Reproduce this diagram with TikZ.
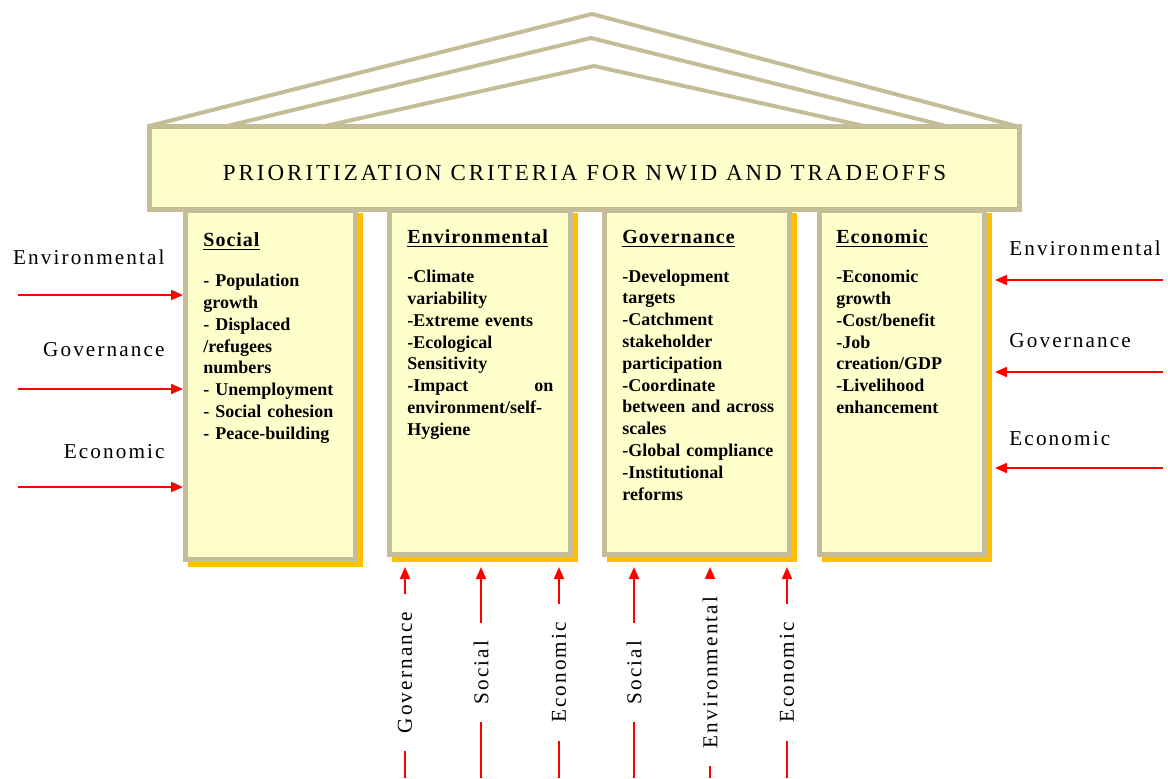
\documentclass[tikz,border=0pt]{standalone}
\usepackage{fontspec}
\setmainfont{Liberation Serif}
\newfontfamily\titlefont[LetterSpace=13]{Liberation Serif}
\newfontfamily\sidefont[LetterSpace=10]{Liberation Serif}
\newfontfamily\headfont[LetterSpace=5]{Liberation Serif}
\usepackage{tikz}
\usetikzlibrary{arrows.meta,shadows}
\definecolor{paper}{RGB}{255,255,204}
\definecolor{frame}{RGB}{196,189,151}
\definecolor{shade}{RGB}{255,192,0}
\definecolor{arrowred}{RGB}{255,0,0}
\newcommand{\colhead}[1]{{\fontsize{10}{10.9}\headfont\bfseries\underline{#1}}}

\begin{document}
\begin{tikzpicture}[
  x=0.5pt, y=-0.5pt,
  roof/.style={draw=frame, line width=2pt},
  pillar/.style={draw=frame, fill=paper, line width=2.5pt, anchor=north west, inner sep=0pt,
    general shadow={draw=shade, fill=shade, line width=2.5pt, shadow xshift=2.5pt, shadow yshift=-2.5pt}},
  pillartext/.style={anchor=north west, inner sep=0pt, align=left,
    font=\fontsize{9}{10.9}\selectfont\bfseries},
  flow/.style={draw=arrowred, line width=1pt, -{Triangle[length=6pt,width=5pt]}},
  sidelab/.style={font=\fontsize{10.6}{12}\sidefont, inner sep=0pt},
  vlab/.style={sidelab, fill=white, rotate=90, inner xsep=9pt, inner ysep=1pt}
]
\useasboundingbox (0,0) rectangle (1168,778);

% roof
\draw[roof] (149,126) -- (592,14) -- (1016,126);
\draw[roof] (227,126) -- (591,38) -- (946,126);
\draw[roof] (325,126) -- (594,66) -- (864,126);

% pillars
\node[pillar, minimum width=85pt, minimum height=174.5pt] (soc) at (183,208) {};
\node[pillar, minimum width=90.5pt, minimum height=172pt] (env) at (387,208) {};
\node[pillar, minimum width=92.5pt, minimum height=172pt] (gov) at (602,208) {};
\node[pillar, minimum width=82.5pt, minimum height=172pt] (eco) at (817,208) {};

\node[draw=frame, fill=paper, line width=2.5pt, minimum width=435pt, minimum height=41.5pt,
  text height=12.5pt, text depth=0pt, font=\fontsize{11.5}{13}\titlefont] (title) at (584.5,168)
  {PRIORITIZATION CRITERIA FOR NWID AND TRADEOFFS};

\node[pillartext, text width=80pt] (soctxt) at (203,232.4) {\colhead{Social}\\[9.1pt]
  - Population\\ growth\\ - Displaced\\ /refugees\\ numbers\\ - Unemployment\\
  - Social cohesion\\ - Peace-building};
\node[pillartext, text width=73pt] (envtxt) at (407,229.4) {\colhead{Environmental}\\[8.6pt]
  -Climate\\ variability\\ -Extreme events\\ -Ecological\\ Sensitivity\\
  -Impact\hfill on\\ environment/self-\\ Hygiene};
\node[pillartext, text width=78pt] (govtxt) at (622,229.4) {\colhead{Governance}\\[8.6pt]
  -Development\\ targets\\ -Catchment\\ stakeholder\\ participation\\ -Coordinate\\
  between and across\\ scales\\ -Global compliance\\ -Institutional\\ reforms};
\node[pillartext, text width=75pt] (ecotxt) at (836,229.4) {\colhead{Economic}\\[8.6pt]
  -Economic\\ growth\\ -Cost/benefit\\ -Job\\ creation/GDP\\ -Livelihood\\ enhancement};

% inputs from the sides
\foreach \y/\lab/\ly [count=\i] in {295/Environmental/264, 389/Governance/356, 487/Economic/458} {
  \coordinate (l\i) at (18,\y);
  \node[sidelab, anchor=base east] (ll\i) at (165,\ly) {\lab};
  \draw[flow] (l\i) -- (l\i -| soc.west);
}
\foreach \y/\lab/\ly [count=\i] in {280/Environmental/255, 372/Governance/347, 468/Economic/445} {
  \coordinate (r\i) at (1163,\y);
  \node[sidelab, anchor=base west] (rl\i) at (1009,\ly) {\lab};
  \draw[flow] (r\i) -- ([xshift=4pt]r\i -| eco.east);
}

% inputs from below
\foreach \x/\lab/\col [count=\i] in {405/Governance/env, 481/Social/env, 559/Economic/env,
    634/Social/gov, 710/Environmental/gov, 787/Economic/gov} {
  \coordinate (b\i) at (\x,778);
  \draw[flow] (b\i) -- ([yshift=-5pt]b\i |- \col.south) node[vlab, pos=0.5] (bl\i) {\lab};
}
\end{tikzpicture}
\end{document}
